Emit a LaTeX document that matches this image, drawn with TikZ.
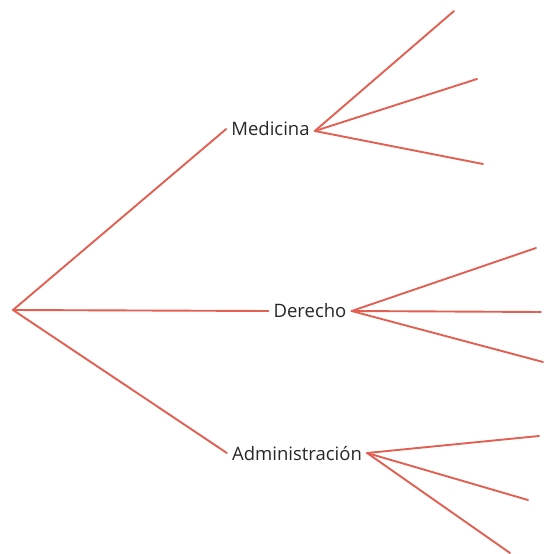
\documentclass[tikz,border=0pt]{standalone}
\usepackage{fontspec}
\setmainfont{Open Sans}
\usepackage{xcolor}
\usepackage{tikz}
\usetikzlibrary{positioning}

\definecolor{branchred}{RGB}{226,96,82}
\definecolor{labelgray}{RGB}{40,40,40}

\begin{document}
\begin{tikzpicture}[
  x=1pt, y=-1pt,
  cat/.style={inner xsep=5pt, inner ysep=2pt, text=labelgray,
              font=\fontsize{18.5}{20}\selectfont},
  branch/.style={draw=branchred, line width=1.9pt, line cap=round}
]
\useasboundingbox (0,0) rectangle (544,554);

\coordinate (root) at (13,310);
\node[cat] (med) at (270.5,129) {Medicina};
\node[cat] (der) at (310,311) {Derecho};
\node[cat] (adm) at (297,453) {Administración};

% loose ends of the second level
\coordinate (m1) at (454,11);
\coordinate (m2) at (477,79);
\coordinate (m3) at (483,164);
\coordinate (d1) at (536,248);
\coordinate (d2) at (541,312);
\coordinate (d3) at (543,362);
\coordinate (a1) at (539,436);
\coordinate (a2) at (528,500);
\coordinate (a3) at (510,553);

\draw[branch] (root) -- (med.west);
\draw[branch] (root) -- (der.west);
\draw[branch] (root) -- (adm.west);

\draw[branch] ([yshift=-2pt]med.east) -- (m1);
\draw[branch] ([yshift=-2pt]med.east) -- (m2);
\draw[branch] ([yshift=-2pt]med.east) -- (m3);
\draw[branch] (der.east) -- (d1);
\draw[branch] (der.east) -- (d2);
\draw[branch] (der.east) -- (d3);
\draw[branch] (adm.east) -- (a1);
\draw[branch] (adm.east) -- (a2);
\draw[branch] (adm.east) -- (a3);
\end{tikzpicture}
\end{document}
